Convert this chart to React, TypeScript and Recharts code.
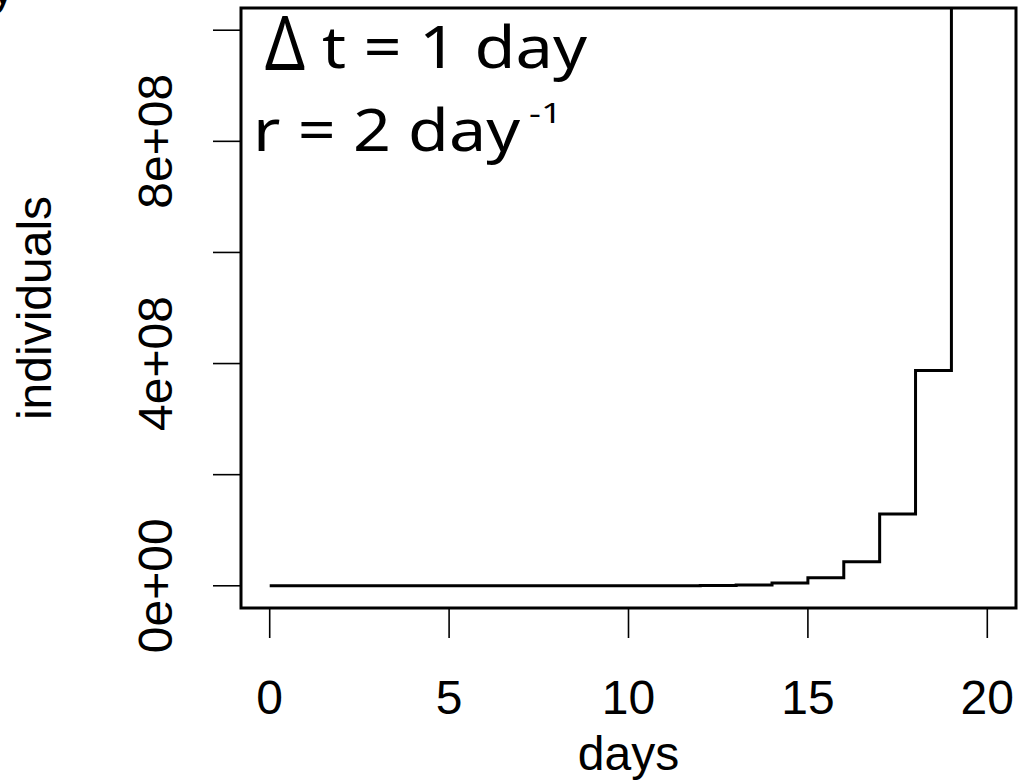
import React from 'react';
import { LineChart, Line, XAxis, YAxis, ReferenceArea } from 'recharts';

// ---- data (discrete growth, N(t+1) = 3 N(t)) ----
const days = [0, 1, 2, 3, 4, 5, 6, 7, 8, 9, 10, 11, 12, 13, 14, 15, 16, 17, 18, 19];
const individuals = [
  1, 3, 9, 27, 81, 243, 729, 2187, 6561, 19683, 59049, 177147, 531441, 1594323,
  4782969, 14348907, 43046721, 129140163, 387420489, 1162261467,
];
const xTicks = [0, 5, 10, 15, 20];
const yTicks = [0, 2e8, 4e8, 6e8, 8e8, 1e9];
const yTickLabels: Record<string, string> = { '0': '0e+00', '400000000': '4e+08', '800000000': '8e+08' };
const xDomain: [number, number] = [-0.8, 20.8];
const yDomain: [number, number] = [-4e7, 1.04e9];
const xLabel = 'days';
const yLabel = 'individuals';
const noteDelta = 'Δ';
const noteLine1 = 't = 1 day';
const noteLine2 = 'r = 2 day';
const noteSup = '-1';

const data = days.map((d, i) => ({ day: d, n: individuals[i] }));

const AXIS_FONT = '"Liberation Sans", Arial, Helvetica, sans-serif';
const NOTE_FONT = '"Noto Sans", "DejaVu Sans", sans-serif';

const XTick = (props: any) => {
  const { x, y, payload } = props;
  return (
    <text x={x} y={y + 74} textAnchor="middle" fontFamily={AXIS_FONT} fontSize={48} fill="#000">
      {String(payload.value)}
    </text>
  );
};

const YTick = (props: any) => {
  const { x, y, payload } = props;
  const lbl = yTickLabels[String(payload.value)];
  if (!lbl) return <g />;
  const bx = x - 39;
  return (
    <text
      x={bx}
      y={y}
      textAnchor="middle"
      fontFamily={AXIS_FONT}
      fontSize={48}
      fill="#000"
      transform={`rotate(-90 ${bx} ${y})`}
    >
      {lbl}
    </text>
  );
};

const XLabel = (props: any) => {
  const vb = props.viewBox || {};
  const cx = vb.x + vb.width / 2;
  return (
    <text x={cx} y={vb.y + 162} textAnchor="middle" fontFamily={AXIS_FONT} fontSize={48} fill="#000">
      {xLabel}
    </text>
  );
};

const YLabel = (props: any) => {
  const vb = props.viewBox || {};
  const bx = vb.x + 10;
  const cy = vb.y + vb.height / 2;
  return (
    <text
      x={bx}
      y={cy}
      textAnchor="middle"
      fontFamily={AXIS_FONT}
      fontSize={48}
      fill="#000"
      transform={`rotate(-90 ${bx} ${cy})`}
    >
      {yLabel}
    </text>
  );
};

export default function App() {
  return (
    <div style={{ position: 'absolute', left: 0, top: 0, width: 1025, height: 780, background: '#fff' }}>
      <LineChart
        width={1025}
        height={780}
        data={data}
        margin={{ top: 8, right: 9, bottom: 22, left: 41 }}
      >
        <XAxis
          dataKey="day"
          type="number"
          domain={xDomain}
          ticks={xTicks}
          allowDataOverflow
          axisLine={false}
          tickLine={{ stroke: '#000', strokeWidth: 1.6 }}
          tickSize={30}
          tick={XTick}
          height={150}
          label={XLabel}
        />
        <YAxis
          type="number"
          domain={yDomain}
          ticks={yTicks}
          allowDataOverflow
          axisLine={false}
          tickLine={{ stroke: '#000', strokeWidth: 1.6 }}
          tickSize={28}
          tick={YTick}
          width={200}
          label={YLabel}
        />
        <Line
          type="stepAfter"
          dataKey="n"
          stroke="#000"
          strokeWidth={3}
          dot={false}
          isAnimationActive={false}
        />
        <ReferenceArea
          x1={xDomain[0]}
          x2={xDomain[1]}
          y1={yDomain[0]}
          y2={yDomain[1]}
          fill="none"
          fillOpacity={0}
          stroke="#000"
          strokeWidth={3}
          ifOverflow="visible"
        />
      </LineChart>
      <svg
        width={1025}
        height={780}
        style={{ position: 'absolute', left: 0, top: 0, pointerEvents: 'none', overflow: 'visible' }}
      >
        <text x={-9} y={4} fontFamily={AXIS_FONT} fontSize={48} fill="#000">y</text>
        <text x={265} y={70} fontFamily={NOTE_FONT} fontSize={74} fill="#000" textLength={40} lengthAdjust="spacingAndGlyphs">
          {noteDelta}
        </text>
        <text x={322} y={68} fontFamily={NOTE_FONT} fontSize={58} fill="#000" textLength={265} lengthAdjust="spacingAndGlyphs">
          {noteLine1}
        </text>
        <text x={253} y={151} fontFamily={NOTE_FONT} fontSize={58} fill="#000" textLength={267} lengthAdjust="spacingAndGlyphs">
          {noteLine2}
        </text>
        <text x={529} y={123} fontFamily={NOTE_FONT} fontSize={28} fill="#000" textLength={33} lengthAdjust="spacingAndGlyphs">
          {noteSup}
        </text>
      </svg>
    </div>
  );
}
